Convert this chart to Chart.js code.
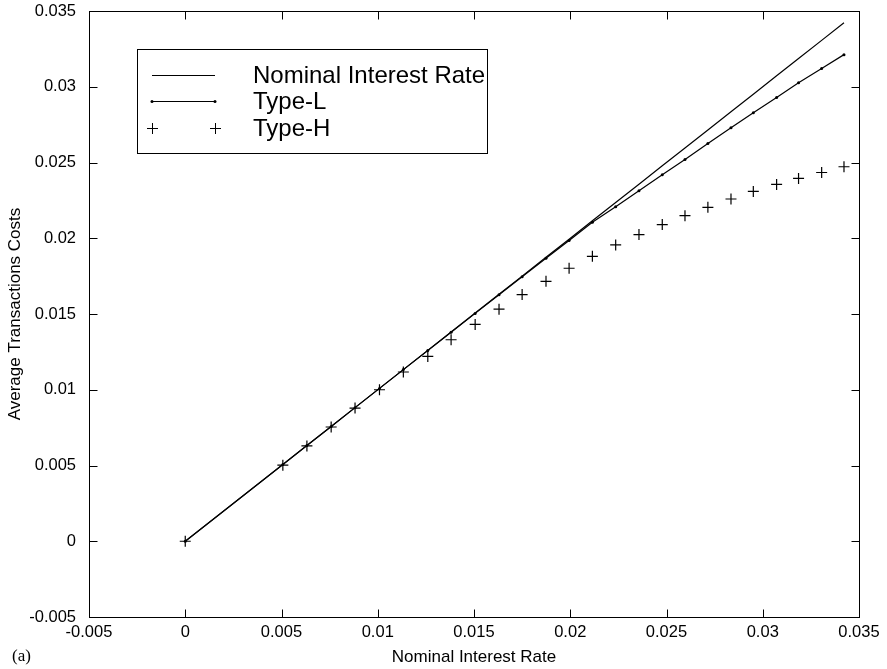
<!DOCTYPE html>
<html>
<head>
<meta charset="utf-8">
<script src="https://cdn.jsdelivr.net/npm/chart.js@4"></script>
<style>
  body { margin: 0; background: #fff; }
</style>
</head>
<body>
<canvas id="chart" width="887" height="669"></canvas>
<script>
// nominal interest rate (x) and average transactions costs per series
const rates = [0, 0.00507, 0.00632, 0.00758, 0.00882, 0.01009, 0.01133, 0.0126, 0.01381, 0.01506,
  0.0163, 0.0175, 0.01874, 0.01994, 0.02115, 0.02236, 0.02357, 0.02478, 0.02596, 0.02715,
  0.02835, 0.02951, 0.03072, 0.03186, 0.03306, 0.03422];
const nominal = [0, 0.00507, 0.00632, 0.00758, 0.00882, 0.01009, 0.01133, 0.0126, 0.01381, 0.01506,
  0.0163, 0.0175, 0.01874, 0.01994, 0.02115, 0.02236, 0.02357, 0.02478, 0.02596, 0.02715,
  0.02835, 0.02951, 0.03072, 0.03186, 0.03306, 0.03422];
const typeL = [0, 0.00507, 0.00632, 0.00758, 0.00882, 0.01009, 0.01133, 0.01259, 0.0138, 0.01504,
  0.01627, 0.01746, 0.01868, 0.01985, 0.02105, 0.02208, 0.02314, 0.02419, 0.0252, 0.02626,
  0.02729, 0.02828, 0.02929, 0.03026, 0.0312, 0.03212];
const typeH = [0, 0.00502, 0.00629, 0.00754, 0.00879, 0.0100, 0.01117, 0.0122, 0.0133, 0.01431,
  0.01532, 0.01628, 0.01716, 0.01802, 0.01881, 0.01956, 0.02024, 0.0209, 0.02149, 0.02204,
  0.02259, 0.02309, 0.02355, 0.02395, 0.02434, 0.02472];

const xTicks = [-0.005, 0, 0.005, 0.01, 0.015, 0.02, 0.025, 0.03, 0.035];
const yTicks = [-0.005, 0, 0.005, 0.01, 0.015, 0.02, 0.025, 0.03, 0.035];
const seriesNames = ["Nominal Interest Rate", "Type-L", "Type-H"];

const FONT = "'Liberation Sans', Arial, Helvetica, sans-serif";

function pts(ys) {
  return rates.map(function (x, i) { return { x: x, y: ys[i] }; });
}

// gnuplot-style frame with inward ticks on all sides
const frame = {
  id: "frame",
  afterDraw: function (chart) {
    const ctx = chart.ctx;
    const a = chart.chartArea;
    const xs = chart.scales.x, ys = chart.scales.y;
    const L = Math.round(a.left) + 0.5, R = Math.round(a.right) + 0.5;
    const T = Math.round(a.top) + 0.5, B = Math.round(a.bottom) + 0.5;
    ctx.save();
    ctx.strokeStyle = "#000";
    ctx.lineWidth = 1;
    ctx.strokeRect(L, T, R - L, B - T);
    ctx.beginPath();
    xTicks.forEach(function (v) {
      const p = Math.round(xs.getPixelForValue(v)) + 0.5;
      ctx.moveTo(p, B); ctx.lineTo(p, B - 8);
      ctx.moveTo(p, T); ctx.lineTo(p, T + 8);
    });
    yTicks.forEach(function (v) {
      const p = Math.round(ys.getPixelForValue(v)) + 0.5;
      ctx.moveTo(L, p); ctx.lineTo(L + 8, p);
      ctx.moveTo(R, p); ctx.lineTo(R - 8, p);
    });
    ctx.stroke();

    // legend box
    const bx = Math.round(a.left + 48), by = Math.round(a.top + 38);
    ctx.strokeRect(bx + 0.5, by + 0.5, 350, 104);
    const x1 = bx + 15, x2 = bx + 78, tx = bx + 116;
    const rows = [by + 26, by + 52, by + 79];
    ctx.beginPath();
    ctx.moveTo(x1, rows[0] + 0.5); ctx.lineTo(x2, rows[0] + 0.5);
    ctx.moveTo(x1, rows[1] + 0.5); ctx.lineTo(x2, rows[1] + 0.5);
    [x1, x2].forEach(function (px) {
      ctx.moveTo(px - 5, rows[2] + 0.5); ctx.lineTo(px + 6, rows[2] + 0.5);
      ctx.moveTo(px + 0.5, rows[2] - 5); ctx.lineTo(px + 0.5, rows[2] + 6);
    });
    ctx.stroke();
    ctx.fillStyle = "#000";
    [x1, x2].forEach(function (px) {
      ctx.beginPath(); ctx.arc(px, rows[1] + 0.5, 1.5, 0, Math.PI * 2); ctx.fill();
    });
    ctx.font = "24px " + FONT;
    ctx.textAlign = "left";
    ctx.textBaseline = "middle";
    seriesNames.forEach(function (n, i) { ctx.fillText(n, tx, rows[i] + 1); });

    // panel label
    ctx.font = "17px 'Liberation Serif', 'Times New Roman', serif";
    ctx.fillText("(a)", 12, 657);
    ctx.restore();
  }
};

new Chart(document.getElementById("chart"), {
  type: "scatter",
  data: {
    datasets: [
      {
        label: seriesNames[0],
        data: pts(nominal),
        showLine: true,
        borderColor: "#000",
        borderWidth: 1.2,
        pointRadius: 0,
      },
      {
        label: seriesNames[1],
        data: pts(typeL),
        showLine: true,
        borderColor: "#000",
        backgroundColor: "#000",
        borderWidth: 1.2,
        pointRadius: 1.5,
        pointBorderWidth: 0,
      },
      {
        label: seriesNames[2],
        data: pts(typeH),
        showLine: false,
        pointStyle: "cross",
        pointRadius: 5.5,
        borderColor: "#000",
        pointBorderWidth: 1.2,
      },
    ],
  },
  plugins: [frame],
  options: {
    responsive: false,
    animation: false,
    clip: false,
    layout: { padding: { top: 11, right: 28, left: 0, bottom: 0 } },
    plugins: {
      legend: { display: false },
      tooltip: { enabled: false },
    },
    scales: {
      x: {
        type: "linear",
        min: -0.005,
        max: 0.035,
        afterBuildTicks: function (s) { s.ticks = xTicks.map(function (v) { return { value: v }; }); },
        afterFit: function (s) { s.height = 52; s.paddingLeft = 0; s.paddingRight = 0; },
        grid: { display: false, drawTicks: false },
        border: { display: false },
        ticks: {
          color: "#000",
          padding: 6,
          maxRotation: 0,
          font: { family: FONT, size: 16.5 },
          callback: function (v) { return String(v); },
        },
        title: {
          display: true,
          text: "Nominal Interest Rate",
          color: "#000",
          padding: { top: 4, bottom: 1 },
          font: { family: FONT, size: 17 },
        },
      },
      y: {
        type: "linear",
        min: -0.005,
        max: 0.035,
        afterBuildTicks: function (s) { s.ticks = yTicks.map(function (v) { return { value: v }; }); },
        afterFit: function (s) { s.width = 89; s.paddingTop = 0; s.paddingBottom = 0; },
        grid: { display: false, drawTicks: false },
        border: { display: false },
        ticks: {
          color: "#000",
          padding: 13,
          font: { family: FONT, size: 16.5 },
          callback: function (v) { return String(v); },
        },
        title: {
          display: true,
          text: "Average Transactions Costs",
          color: "#000",
          padding: { top: 5, bottom: 0 },
          font: { family: FONT, size: 17 },
        },
      },
    },
  },
});
</script>
</body>
</html>
